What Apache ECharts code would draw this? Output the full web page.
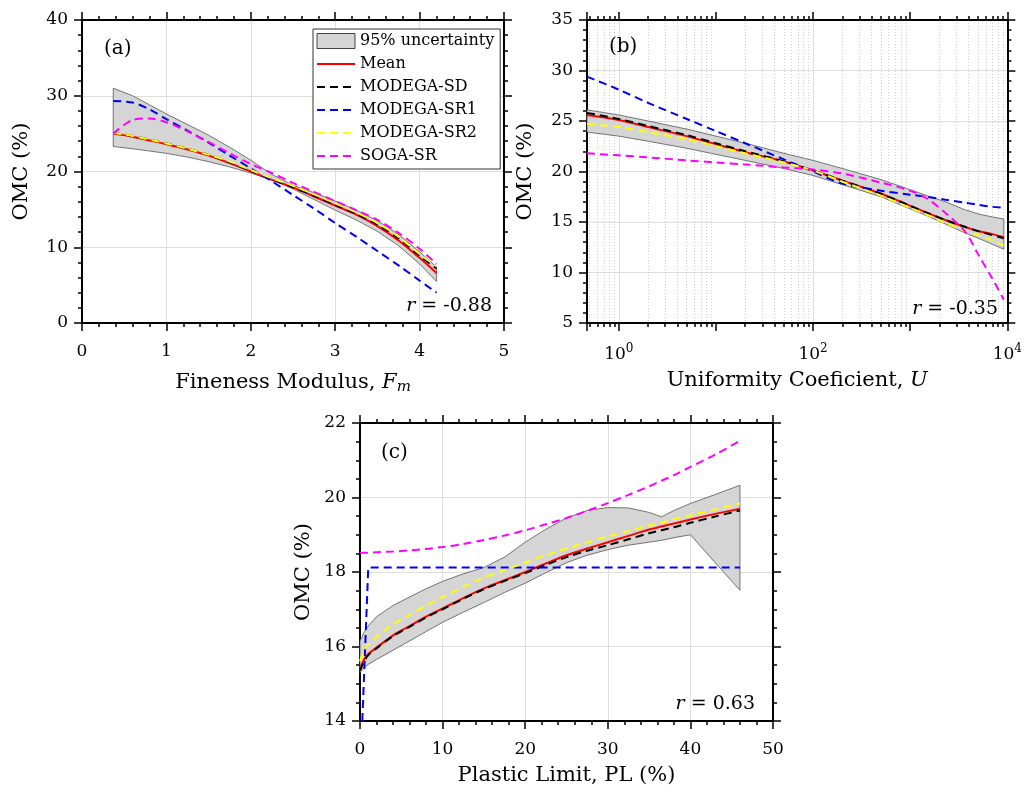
<!DOCTYPE html>
<html>
<head>
<meta charset="utf-8">
<script src="https://cdn.jsdelivr.net/npm/echarts@6/dist/echarts.min.js"></script>
<style>html,body{margin:0;background:#fff}#chart{width:1025px;height:795px}</style>
</head>
<body>
<div id="chart"></div>
<script>
// (a) fineness modulus
const fmX = [0.37, 0.6, 0.8, 1.0, 1.25, 1.5, 1.75, 2.0, 2.25, 2.5, 2.75, 3.0, 3.25, 3.5, 3.75, 4.0, 4.2]
const fmUpper = [31.0, 30.0, 28.8, 27.6, 26.2, 24.8, 23.2, 21.5, 19.6, 18.2, 17.2, 16.1, 14.9, 13.5, 11.7, 9.4, 7.4]
const fmLower = [23.3, 23.0, 22.7, 22.4, 21.9, 21.3, 20.6, 19.8, 18.9, 17.7, 16.3, 14.9, 13.6, 12.1, 10.2, 7.8, 5.5]
const fmMean = [25.0, 24.6, 24.1, 23.6, 22.9, 22.1, 21.1, 20.0, 18.9, 17.9, 16.7, 15.5, 14.3, 12.8, 10.9, 8.6, 6.6]
const fmSD = [25.1, 24.7, 24.2, 23.7, 23.0, 22.2, 21.2, 20.1, 19.0, 17.9, 16.8, 15.6, 14.4, 13.0, 11.2, 8.9, 7.2]
const fmSR1 = [29.3, 29.1, 28.2, 26.9, 25.4, 23.8, 22.1, 20.4, 18.7, 16.9, 15.1, 13.2, 11.4, 9.5, 7.6, 5.6, 4.0]
const fmSR2 = [25.1, 24.7, 24.2, 23.7, 23.0, 22.2, 21.3, 20.2, 19.1, 18.1, 17.0, 15.8, 14.6, 13.2, 11.4, 9.1, 7.5]
const fmSOGA = [25.0, 26.8, 27.0, 26.5, 25.3, 23.9, 22.4, 21.0, 19.8, 18.5, 17.3, 16.1, 14.9, 13.6, 11.9, 9.8, 7.8]

// (b) uniformity coefficient (log x)
const uX = [0.47, 1, 2, 5, 10, 20, 50, 100, 200, 500, 1000, 1500, 2300, 3700, 5000, 7000, 9200]
const uUpper = [26.1, 25.6, 25.0, 24.2, 23.5, 22.8, 21.8, 21.1, 20.3, 19.2, 18.2, 17.6, 17.0, 16.2, 15.8, 15.5, 15.3]
const uLower = [23.9, 23.5, 23.0, 22.3, 21.7, 21.1, 20.3, 19.6, 18.7, 17.5, 16.3, 15.6, 14.8, 13.9, 13.4, 12.8, 12.3]
const uMean = [25.6, 25.1, 24.4, 23.5, 22.7, 21.9, 21.0, 20.1, 19.1, 17.8, 16.6, 15.9, 15.2, 14.5, 14.1, 13.8, 13.5]
const uSD = [25.8, 25.2, 24.5, 23.6, 22.8, 22.0, 21.0, 20.1, 19.1, 17.8, 16.6, 15.9, 15.2, 14.5, 14.1, 13.7, 13.4]
const uSR1 = [29.4, 28.1, 26.8, 25.2, 24.0, 22.8, 21.2, 20.0, 18.8, 18.1, 17.7, 17.5, 17.2, 16.9, 16.7, 16.5, 16.4]
const uSR2 = [24.7, 24.4, 23.9, 23.2, 22.5, 21.8, 20.9, 20.1, 19.0, 17.6, 16.4, 15.7, 14.9, 14.1, 13.7, 13.2, 12.7]
const uSOGA = [21.8, 21.6, 21.4, 21.1, 20.9, 20.7, 20.4, 20.2, 19.8, 18.9, 18.1, 17.3, 15.9, 14.0, 11.8, 9.4, 7.3]

// (c) plastic limit
const plX = [0, 0.5, 1, 2, 4, 6, 8, 10, 12.5, 15, 17.5, 20, 22.5, 25, 27.5, 30, 32.5, 35, 36.5, 38, 40, 43, 46]
const plUpper = [16.15, 16.38, 16.55, 16.8, 17.1, 17.33, 17.55, 17.75, 17.95, 18.12, 18.4, 18.8, 19.15, 19.45, 19.65, 19.73, 19.72, 19.6, 19.48, 19.65, 19.84, 20.08, 20.33]
const plLower = [15.3, 15.42, 15.52, 15.65, 15.9, 16.15, 16.4, 16.65, 16.92, 17.18, 17.45, 17.7, 17.98, 18.25, 18.45, 18.6, 18.72, 18.8, 18.85, 18.92, 19.0, 18.25, 17.51]
const plMean = [15.4, 15.65, 15.8, 15.97, 16.3, 16.55, 16.8, 17.02, 17.3, 17.56, 17.78, 18.0, 18.23, 18.45, 18.63, 18.8, 18.97, 19.14, 19.22, 19.3, 19.41, 19.56, 19.7]
const plSD = [15.35, 15.6, 15.77, 15.95, 16.28, 16.53, 16.78, 17.0, 17.28, 17.54, 17.76, 17.97, 18.19, 18.4, 18.57, 18.72, 18.88, 19.04, 19.12, 19.2, 19.32, 19.49, 19.65]
const plSR2 = [15.6, 15.9, 16.05, 16.25, 16.6, 16.85, 17.1, 17.33, 17.6, 17.85, 18.05, 18.25, 18.45, 18.63, 18.8, 18.95, 19.1, 19.25, 19.33, 19.42, 19.52, 19.68, 19.84]
const plSOGA = [18.52, 18.52, 18.52, 18.53, 18.55, 18.58, 18.62, 18.67, 18.75, 18.86, 18.98, 19.12, 19.28, 19.45, 19.64, 19.85, 20.07, 20.3, 20.45, 20.6, 20.82, 21.15, 21.52]
const plSR1X = [0.28, 1.0, 46]
const plSR1 = [14.0, 18.12, 18.12]

const FONT = 'DejaVu Serif'
const BAND = '95% uncertainty'
const names = ['Mean', 'MODEGA-SD', 'MODEGA-SR1', 'MODEGA-SR2', 'SOGA-SR']
const colors = ['#ff0000', '#000000', '#0000ff', '#ffff00', '#ff00ff']

const pairs = (xs, ys) => xs.map((x, i) => [x, ys[i]])

// shaded band: one closed polygon, upper edge then lower edge backwards
function band(idx, xs, lo, hi) {
  return {
    name: BAND, type: 'custom', xAxisIndex: idx, yAxisIndex: idx, z: 1, silent: true,
    data: xs.map((x, i) => [x, lo[i], hi[i]]),
    encode: { x: 0, y: [1, 2] },
    renderItem: function (params, api) {
      if (params.dataIndex !== 0) return null
      const top = xs.map((x, i) => api.coord([x, hi[i]]))
      const bot = xs.map((x, i) => api.coord([x, lo[i]])).reverse()
      return {
        type: 'polygon',
        shape: { points: top.concat(bot) },
        style: { fill: '#d5d5d5', stroke: '#555', lineWidth: 0.8 }
      }
    }
  }
}

function curve(idx, k, data, smooth) {
  return {
    name: names[k], type: 'line', xAxisIndex: idx, yAxisIndex: idx, symbol: 'none',
    smooth: smooth === undefined ? 0.3 : smooth, clip: true,
    lineStyle: { color: colors[k], width: 2, type: k === 0 ? 'solid' : [8, 5] },
    itemStyle: { color: colors[k] }, data: data, z: 2 + k
  }
}

const tickStyle = { color: '#000', width: 1.5 }
function axisBase(extra) {
  return Object.assign({
    axisLine: { onZero: false, lineStyle: { color: '#000', width: 2 } },
    axisTick: { length: 8, lineStyle: tickStyle },
    minorTick: { show: true, splitNumber: 5, length: 4, lineStyle: tickStyle },
    axisLabel: { fontFamily: FONT, fontSize: 17, color: '#000' },
    nameTextStyle: { fontFamily: FONT, fontSize: 21, color: '#000' },
    nameLocation: 'middle'
  }, extra)
}
const grid = { show: true, lineStyle: { color: '#dedede', width: 1 } }

const logLabel = v => {
  const e = Math.round(Math.log10(v))
  if (Math.abs(v - Math.pow(10, e)) > 1e-6 * Math.pow(10, e) || e % 2) return ''
  return '{b|10}{s|' + e + '}'
}

const xSpec = [
  { type: 'value', min: 0, max: 5, interval: 1, name: 'Fineness Modulus, {i|F}{sub|m}', nameGap: 47 },
  { type: 'log', min: 0.47, max: 10000, name: 'Uniformity Coeficient, {i|U}', nameGap: 47 },
  { type: 'value', min: 0, max: 50, interval: 10, name: 'Plastic Limit, PL (%)', nameGap: 44 }
]
const ySpec = [
  { min: 0, max: 40, interval: 10, split: 5, nameGap: 50 },
  { min: 5, max: 35, interval: 5, split: 5, nameGap: 51 },
  { min: 14, max: 22, interval: 2, split: 4, nameGap: 46 }
]

const xAxes = []
const yAxes = []
xSpec.forEach((s, i) => {
  const isLog = s.type === 'log'
  const common = { gridIndex: i, type: s.type, min: s.min, max: s.max }
  if (!isLog) common.interval = s.interval
  const bottom = axisBase(Object.assign({}, common, {
    position: 'bottom', name: s.name, nameGap: s.nameGap,
    splitLine: grid,
    axisLabel: { fontFamily: FONT, fontSize: 17, color: '#000', margin: 20,
      formatter: isLog ? logLabel : null,
      rich: { b: { fontFamily: FONT, fontSize: 17, color: '#000' },
              s: { fontFamily: FONT, fontSize: 12, color: '#000', padding: [0, 0, 12, 0] } } },
    nameTextStyle: { fontFamily: FONT, fontSize: 21, color: '#000',
      rich: { i: { fontFamily: FONT, fontSize: 21, fontStyle: 'italic', color: '#000' },
              sub: { fontFamily: FONT, fontSize: 15, fontStyle: 'italic', color: '#000', padding: [10, 0, 0, 0] } } }
  }))
  if (isLog) {
    // solid grid only at the labelled decades, dotted at the rest
    bottom.splitLine = { show: true, lineStyle: { color: ['transparent', '#dedede'], width: 1 } }
    bottom.minorTick = { show: true, splitNumber: 9, length: 4, lineStyle: tickStyle }
    bottom.minorSplitLine = { show: true, lineStyle: { color: '#d0d0d0', type: [1, 2], width: 1 } }
  }
  xAxes.push(bottom)
})
xSpec.forEach((s, i) => {
  const isLog = s.type === 'log'
  const ax = axisBase({ gridIndex: i, type: s.type, min: s.min, max: s.max, position: 'top',
    axisLabel: { show: false }, splitLine: { show: false } })
  if (!isLog) ax.interval = s.interval
  else ax.minorTick = { show: true, splitNumber: 9, length: 4, lineStyle: tickStyle }
  xAxes.push(ax)
})
ySpec.forEach((s, i) => {
  yAxes.push(axisBase({ gridIndex: i, type: 'value', min: s.min, max: s.max, interval: s.interval,
    position: 'left', name: 'OMC (%)', nameGap: s.nameGap, splitLine: grid,
    minorTick: { show: true, splitNumber: s.split, length: 4, lineStyle: tickStyle },
    axisLabel: { fontFamily: FONT, fontSize: 17, color: '#000', margin: 14 } }))
})
ySpec.forEach((s, i) => {
  yAxes.push(axisBase({ gridIndex: i, type: 'value', min: s.min, max: s.max, interval: s.interval,
    position: 'right', axisLabel: { show: false }, splitLine: { show: false },
    minorTick: { show: true, splitNumber: s.split, length: 4, lineStyle: tickStyle } }))
})

const series = [].concat(
  [band(0, fmX, fmLower, fmUpper)],
  [fmMean, fmSD, fmSR1, fmSR2, fmSOGA].map((ys, k) => curve(0, k, pairs(fmX, ys))),
  [band(1, uX, uLower, uUpper)],
  [uMean, uSD, uSR1, uSR2, uSOGA].map((ys, k) => curve(1, k, pairs(uX, ys))),
  [band(2, plX, plLower, plUpper)],
  [plMean, plSD].map((ys, k) => curve(2, k, pairs(plX, ys))),
  [curve(2, 2, pairs(plSR1X, plSR1), false)],
  [plSR2, plSOGA].map((ys, k) => curve(2, k + 3, pairs(plX, ys)))
)

const rText = (txt, right, top) => ({
  type: 'text', right: right, top: top, z: 100,
  style: { text: txt, fontFamily: FONT, fontSize: 19, fill: '#000',
    rich: { i: { fontFamily: FONT, fontSize: 19, fontStyle: 'italic', fill: '#000' } } }
})
const tag = (txt, left, top) => ({
  type: 'text', left: left, top: top, z: 100,
  style: { text: txt, fontFamily: FONT, fontSize: 20, fill: '#000' }
})

const option = {
  animation: false,
  backgroundColor: '#fff',
  grid: [
    { left: 82, top: 20, width: 422, height: 303 },
    { left: 587, top: 20, width: 422, height: 303 },
    { left: 360, top: 423, width: 413, height: 298 }
  ],
  xAxis: xAxes,
  yAxis: yAxes,
  legend: {
    data: [{ name: BAND, icon: 'rect', itemStyle: { color: '#d5d5d5', borderColor: '#444', borderWidth: 1, opacity: 1 } }]
      .concat(names.map(n => ({ name: n, itemStyle: { opacity: 0 } }))),
    orient: 'vertical', left: 313, top: 29, itemWidth: 38, itemHeight: 15, itemGap: 7,
    padding: [4, 6, 5, 3], backgroundColor: '#fff', borderColor: '#333', borderWidth: 1,
    borderRadius: 0, selectedMode: false,
    textStyle: { fontFamily: FONT, fontSize: 16, color: '#000' }
  },
  graphic: [
    tag('(a)', 104, 39), tag('(b)', 609, 37), tag('(c)', 381, 443),
    rText('{i|r} = -0.88', 533, 297),
    rText('{i|r} = -0.35', 27, 300),
    rText('{i|r} = 0.63', 270, 695)
  ],
  series: series
}

const chart = echarts.init(document.getElementById('chart'))
chart.setOption(option)
</script>
</body>
</html>
